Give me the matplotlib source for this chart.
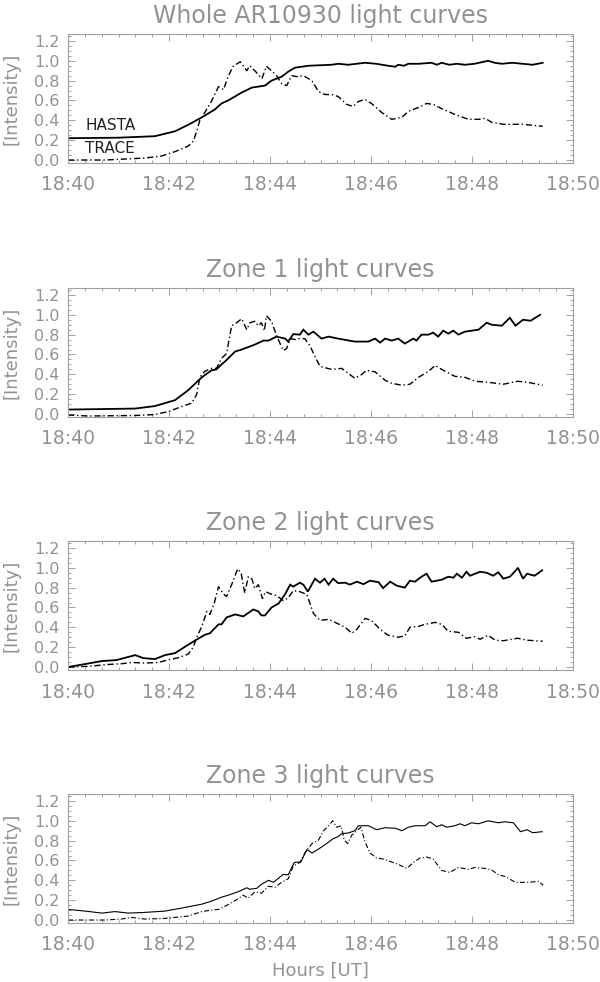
import matplotlib
matplotlib.use("Agg")
import matplotlib.pyplot as plt
from matplotlib.ticker import MultipleLocator, FixedLocator

# ---------------- data (time in minutes after 18:40 UT, normalised intensity) ----------------
titles = ["Whole AR10930 light curves", "Zone 1 light curves",
          "Zone 2 light curves", "Zone 3 light curves"]
xtick_vals = [0, 2, 4, 6, 8, 10]
xtick_labels = ["18:40", "18:42", "18:44", "18:46", "18:48", "18:50"]
ytick_vals = [0.0, 0.2, 0.4, 0.6, 0.8, 1.0, 1.2]

# Whole AR10930
whole_hasta_t = [0.00, 1.00, 1.72, 2.12, 2.40, 2.65, 2.91, 3.04, 3.17, 3.44, 3.64, 3.90, 4.03, 4.23, 4.36,
                 4.49, 4.76, 5.22, 5.35, 5.55, 5.88, 6.10, 6.34, 6.48, 6.54, 6.65, 6.74, 6.95, 7.20, 7.30,
                 7.40, 7.55, 7.70, 7.86, 8.05, 8.32, 8.45, 8.59, 8.80, 9.00, 9.20, 9.40]
whole_hasta_v = [0.22, 0.225, 0.24, 0.29, 0.36, 0.43, 0.51, 0.57, 0.60, 0.68, 0.73, 0.75, 0.80, 0.84, 0.89,
                 0.93, 0.95, 0.96, 0.97, 0.96, 0.98, 0.97, 0.95, 0.94, 0.96, 0.95, 0.97, 0.97, 0.98, 0.96,
                 0.98, 0.96, 0.97, 0.96, 0.97, 1.00, 0.98, 0.97, 0.98, 0.97, 0.96, 0.98]
whole_trace_t = [0.00, 0.73, 1.52, 1.85, 2.12, 2.38, 2.48, 2.55, 2.61, 2.71, 2.84, 2.98, 3.08, 3.17, 3.27,
                 3.41, 3.47, 3.54, 3.60, 3.70, 3.84, 3.93, 4.03, 4.13, 4.23, 4.33, 4.43, 4.53, 4.66, 4.83,
                 4.96, 5.09, 5.22, 5.35, 5.52, 5.65, 5.75, 5.88, 6.01, 6.21, 6.41, 6.61, 6.74, 6.94, 7.10,
                 7.24, 7.43, 7.66, 7.93, 8.13, 8.26, 8.39, 8.62, 9.00, 9.40]
whole_trace_v = [0.00, 0.00, 0.02, 0.04, 0.085, 0.14, 0.19, 0.29, 0.40, 0.48, 0.59, 0.74, 0.71, 0.84, 0.945,
                 0.99, 0.95, 0.90, 0.95, 0.90, 0.82, 0.945, 0.90, 0.85, 0.77, 0.75, 0.85, 0.84, 0.85, 0.80,
                 0.69, 0.66, 0.66, 0.64, 0.56, 0.54, 0.59, 0.61, 0.57, 0.48, 0.41, 0.43, 0.49, 0.53, 0.57,
                 0.56, 0.51, 0.46, 0.41, 0.41, 0.42, 0.38, 0.36, 0.36, 0.34]

# Zone 1
z1_hasta_t = [0.00, 1.33, 1.72, 2.12, 2.38, 2.65, 2.84, 2.94, 3.04, 3.11, 3.31, 3.44, 3.70, 3.87, 3.97,
              4.13, 4.30, 4.36, 4.46, 4.59, 4.66, 4.76, 4.86, 5.02, 5.16, 5.35, 5.68, 5.95, 6.08, 6.18,
              6.28, 6.41, 6.54, 6.67, 6.84, 6.90, 7.00, 7.14, 7.23, 7.33, 7.43, 7.53, 7.63, 7.73, 7.86,
              8.13, 8.29, 8.39, 8.59, 8.75, 8.86, 9.01, 9.16, 9.35]
z1_hasta_v = [0.045, 0.055, 0.08, 0.14, 0.24, 0.37, 0.44, 0.45, 0.50, 0.53, 0.63, 0.65, 0.70, 0.74, 0.74,
              0.78, 0.76, 0.73, 0.805, 0.80, 0.85, 0.80, 0.83, 0.76, 0.78, 0.76, 0.73, 0.73, 0.76, 0.72,
              0.76, 0.74, 0.76, 0.71, 0.76, 0.74, 0.80, 0.80, 0.82, 0.78, 0.84, 0.81, 0.84, 0.80, 0.83,
              0.85, 0.92, 0.90, 0.89, 0.97, 0.89, 0.95, 0.94, 1.00]
z1_trace_t = [0.00, 0.40, 1.33, 1.72, 1.99, 2.25, 2.45, 2.55, 2.61, 2.71, 2.84, 2.94, 3.04, 3.14, 3.24,
              3.34, 3.44, 3.54, 3.60, 3.70, 3.77, 3.83, 3.89, 3.93, 4.03, 4.13, 4.26, 4.33, 4.40, 4.50,
              4.59, 4.69, 4.79, 4.89, 4.99, 5.22, 5.42, 5.55, 5.68, 5.82, 5.91, 6.08, 6.28, 6.41, 6.61,
              6.77, 6.94, 7.14, 7.27, 7.40, 7.66, 7.86, 8.06, 8.32, 8.62, 8.90, 9.10, 9.40]
z1_trace_v = [-0.01, -0.02, -0.015, -0.005, 0.025, 0.075, 0.11, 0.20, 0.37, 0.43, 0.46, 0.46, 0.56, 0.61, 0.89,
              0.92, 0.96, 0.85, 0.92, 0.935, 0.89, 0.92, 0.84, 0.99, 0.935, 0.79, 0.64, 0.66, 0.76, 0.75,
              0.76, 0.76, 0.69, 0.58, 0.48, 0.45, 0.46, 0.41, 0.36, 0.40, 0.44, 0.425, 0.34, 0.31, 0.29,
              0.30, 0.37, 0.43, 0.49, 0.45, 0.38, 0.37, 0.33, 0.32, 0.30, 0.33, 0.32, 0.29]

# Zone 2
z2_hasta_t = [0.00, 0.34, 0.67, 0.96, 1.33, 1.49, 1.72, 1.92, 2.12, 2.35, 2.51, 2.71, 2.81, 2.98, 3.04,
              3.14, 3.31, 3.47, 3.67, 3.77, 3.83, 3.90, 4.03, 4.17, 4.30, 4.40, 4.46, 4.59, 4.66, 4.75,
              4.89, 4.99, 5.08, 5.16, 5.25, 5.35, 5.49, 5.58, 5.72, 5.85, 5.98, 6.15, 6.24, 6.38, 6.51,
              6.67, 6.77, 6.87, 7.00, 7.10, 7.20, 7.40, 7.53, 7.63, 7.70, 7.80, 7.89, 7.96, 8.16, 8.29,
              8.42, 8.52, 8.62, 8.75, 8.86, 8.91, 9.01, 9.09, 9.24, 9.39]
z2_hasta_v = [0.00, 0.03, 0.06, 0.07, 0.12, 0.09, 0.08, 0.12, 0.14, 0.215, 0.265, 0.325, 0.34, 0.43, 0.43,
              0.50, 0.53, 0.51, 0.58, 0.56, 0.52, 0.52, 0.60, 0.64, 0.735, 0.83, 0.81, 0.85, 0.83, 0.76,
              0.89, 0.85, 0.89, 0.83, 0.89, 0.845, 0.85, 0.83, 0.86, 0.835, 0.87, 0.855, 0.795, 0.86, 0.82,
              0.80, 0.87, 0.86, 0.91, 0.94, 0.86, 0.88, 0.91, 0.90, 0.94, 0.90, 0.96, 0.92, 0.96, 0.95,
              0.92, 0.955, 0.89, 0.91, 0.97, 1.00, 0.89, 0.94, 0.92, 0.975]
z2_trace_t = [0.00, 0.40, 0.80, 1.06, 1.26, 1.52, 1.79, 1.99, 2.18, 2.38, 2.48, 2.55, 2.65, 2.75, 2.81,
              2.90, 2.98, 3.08, 3.14, 3.24, 3.36, 3.43, 3.50, 3.57, 3.64, 3.70, 3.77, 3.85, 3.91, 4.02,
              4.13, 4.26, 4.36, 4.46, 4.59, 4.73, 4.86, 4.99, 5.16, 5.25, 5.49, 5.62, 5.72, 5.88, 6.01,
              6.18, 6.34, 6.54, 6.67, 6.77, 6.94, 7.07, 7.27, 7.40, 7.53, 7.73, 7.89, 8.06, 8.16, 8.32,
              8.46, 8.62, 8.90, 9.10, 9.40]
z2_trace_v = [0.00, 0.007, 0.026, 0.033, 0.046, 0.04, 0.046, 0.073, 0.093, 0.13, 0.20, 0.30, 0.41, 0.56, 0.53,
              0.65, 0.81, 0.735, 0.71, 0.83, 0.99, 0.94, 0.745, 0.91, 0.89, 0.79, 0.83, 0.69, 0.76, 0.735,
              0.72, 0.67, 0.695, 0.77, 0.76, 0.73, 0.54, 0.47, 0.48, 0.46, 0.40, 0.34, 0.38, 0.49, 0.47,
              0.38, 0.32, 0.30, 0.315, 0.40, 0.41, 0.43, 0.45, 0.43, 0.36, 0.35, 0.29, 0.305, 0.28, 0.32,
              0.27, 0.265, 0.29, 0.27, 0.26]

# Zone 3
z3_hasta_t = [0.00, 0.34, 0.67, 0.93, 1.19, 1.46, 1.92, 2.25, 2.65, 2.84, 3.04, 3.17, 3.37, 3.54, 3.60,
              3.74, 3.83, 3.97, 4.07, 4.26, 4.36, 4.48, 4.61, 4.73, 4.83, 4.96, 5.12, 5.25, 5.35, 5.42,
              5.55, 5.68, 5.75, 5.95, 6.11, 6.28, 6.48, 6.61, 6.74, 6.87, 7.07, 7.17, 7.30, 7.40, 7.50,
              7.66, 7.76, 7.86, 7.99, 8.13, 8.32, 8.52, 8.65, 8.82, 8.96, 9.09, 9.20, 9.39]
z3_hasta_v = [0.107, 0.09, 0.07, 0.085, 0.07, 0.075, 0.09, 0.12, 0.16, 0.19, 0.23, 0.25, 0.285, 0.325, 0.31,
              0.32, 0.36, 0.40, 0.38, 0.46, 0.455, 0.58, 0.585, 0.71, 0.675, 0.715, 0.77, 0.82, 0.84, 0.87,
              0.877, 0.90, 0.95, 0.95, 0.91, 0.93, 0.925, 0.90, 0.935, 0.95, 0.95, 0.99, 0.94, 0.96, 0.935,
              0.95, 0.97, 0.95, 0.98, 0.97, 1.00, 0.98, 0.99, 0.98, 0.89, 0.91, 0.88, 0.89]
z3_trace_t = [0.00, 0.73, 1.06, 1.26, 1.52, 1.92, 2.38, 2.65, 2.84, 2.98, 3.17, 3.34, 3.47, 3.57, 3.70,
              3.83, 3.97, 4.10, 4.23, 4.36, 4.46, 4.59, 4.69, 4.83, 4.96, 5.06, 5.16, 5.24, 5.32, 5.41,
              5.47, 5.54, 5.62, 5.72, 5.80, 5.88, 5.98, 6.11, 6.24, 6.38, 6.54, 6.71, 6.84, 6.97, 7.10,
              7.23, 7.40, 7.56, 7.73, 7.93, 8.06, 8.26, 8.39, 8.52, 8.65, 8.86, 9.13, 9.32, 9.41]
z3_trace_v = [0.00, 0.00, 0.01, 0.026, 0.01, 0.016, 0.04, 0.085, 0.10, 0.107, 0.155, 0.205, 0.25, 0.22, 0.285,
              0.27, 0.34, 0.33, 0.38, 0.415, 0.545, 0.58, 0.675, 0.77, 0.805, 0.90, 0.95, 1.00, 0.935, 0.95,
              0.805, 0.77, 0.855, 0.90, 0.935, 0.79, 0.675, 0.625, 0.615, 0.59, 0.56, 0.52, 0.58, 0.625, 0.635,
              0.615, 0.50, 0.48, 0.53, 0.51, 0.53, 0.52, 0.505, 0.455, 0.44, 0.38, 0.38, 0.39, 0.35]

panels = [
    (whole_hasta_t, whole_hasta_v, whole_trace_t, whole_trace_v),
    (z1_hasta_t, z1_hasta_v, z1_trace_t, z1_trace_v),
    (z2_hasta_t, z2_hasta_v, z2_trace_t, z2_trace_v),
    (z3_hasta_t, z3_hasta_v, z3_trace_t, z3_trace_v),
]

# ---------------- figure ----------------
W, H = 600, 982
fig = plt.figure(figsize=(W / 100, H / 100), dpi=100)
fig.patch.set_facecolor("white")

GRAY = "#929292"
AXGRAY = "#a0a0a0"
left_px, right_px = 68, 573
tops_px = [34, 288, 541, 794]
height_px = 129

for i, (ht, hv, tt, tv) in enumerate(panels):
    top = tops_px[i]
    ax = fig.add_axes([left_px / W, 1 - (top + height_px) / H,
                       (right_px - left_px) / W, height_px / H])
    lw_s = 1.3 if i < 3 else 0.8
    lw_d = 1.0 if i < 3 else 0.8
    ax.plot(ht, hv, color="black", lw=lw_s, solid_joinstyle="miter")
    ax.plot(tt, tv, color="black", lw=lw_d, dashes=(4.5, 2.0, 1.0, 2.0))
    ax.set_xlim(0, 10)
    ax.set_ylim(-0.03, 1.27)

    ax.xaxis.set_major_locator(FixedLocator(xtick_vals))
    ax.set_xticklabels(xtick_labels)
    ax.xaxis.set_minor_locator(MultipleLocator(1 / 3))
    ax.yaxis.set_major_locator(FixedLocator(ytick_vals))
    ax.set_yticklabels([f"{v:.1f}" for v in ytick_vals])
    ax.yaxis.set_minor_locator(MultipleLocator(0.05))

    ax.tick_params(which="both", direction="in", top=True, right=True, color=AXGRAY, width=0.7)
    ax.tick_params(which="major", length=5)
    ax.tick_params(which="minor", length=2.5)
    ax.tick_params(axis="x", which="major", labelsize=13.5, labelcolor=GRAY, pad=9)
    ax.tick_params(axis="y", which="major", labelsize=11.5, labelcolor=GRAY, pad=6)
    for sp in ax.spines.values():
        sp.set_color(AXGRAY)
        sp.set_linewidth(0.8)

    ax.set_title(titles[i], fontsize=17, color=GRAY, pad=8)
    ax.set_ylabel("[Intensity]", fontsize=13, color=GRAY)
    ax.yaxis.set_label_coords(-0.095, 0.5)

    if i == 0:
        ax.text(0.34, 0.345, "HASTA", fontsize=11, color="#222222", va="center", ha="left")
        ax.text(0.34, 0.115, "TRACE", fontsize=11, color="#222222", va="center", ha="left")
    if i == 3:
        ax.set_xlabel("Hours [UT]", fontsize=13, color=GRAY, labelpad=5)

fig.savefig("out.png", dpi=100, facecolor="white")
